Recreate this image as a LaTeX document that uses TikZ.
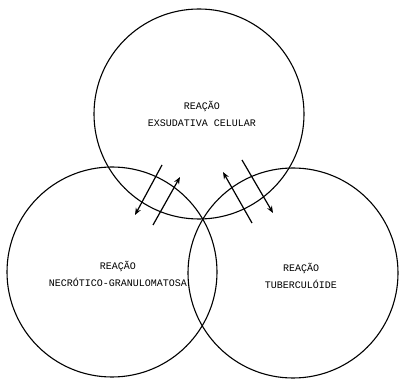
\documentclass[tikz,border=0pt]{standalone}
\usepackage{fontspec}
\setmonofont{Liberation Mono}
\usetikzlibrary{arrows.meta,positioning}

\tikzset{
  reacao/.style={circle, draw, line width=1.1pt, minimum size=210pt, inner sep=0pt},
  rotulo/.style={align=center, font=\ttfamily\fontsize{10}{17}\selectfont},
  seta/.style={line width=1.2pt, -{Stealth[length=7pt,width=5.5pt]}}
}

\begin{document}
\begin{tikzpicture}[x=1pt,y=-1pt]
\useasboundingbox (0,0) rectangle (399,379);

% the three circles
\node[reacao] (exsud) at (199,114) {};
\node[reacao] (necro) at (112,272) {};
\node[reacao] (tuber) at (293,273) {};

% labels
\node[rotulo] (lexsud) at (202,114) {REAÇÃO\\EXSUDATIVA CELULAR};
\node[rotulo] (lnecro) at (118,274) {REAÇÃO\\NECRÓTICO-GRANULOMATOSA};
\node[rotulo] (ltuber) at (301,276) {REAÇÃO\\TUBERCULÓIDE};

% arrow ends
\coordinate (a1) at (162,165);
\coordinate (b1) at (135,215);
\coordinate (a2) at (153,225);
\coordinate (b2) at (180,177);
\coordinate (a3) at (252,223);
\coordinate (b3) at (223,172);
\coordinate (a4) at (242,160);
\coordinate (b4) at (273,213);

\draw[seta] (a1) -- (b1);
\draw[seta] (a2) -- (b2);
\draw[seta] (a3) -- (b3);
\draw[seta] (a4) -- (b4);
\end{tikzpicture}
\end{document}
